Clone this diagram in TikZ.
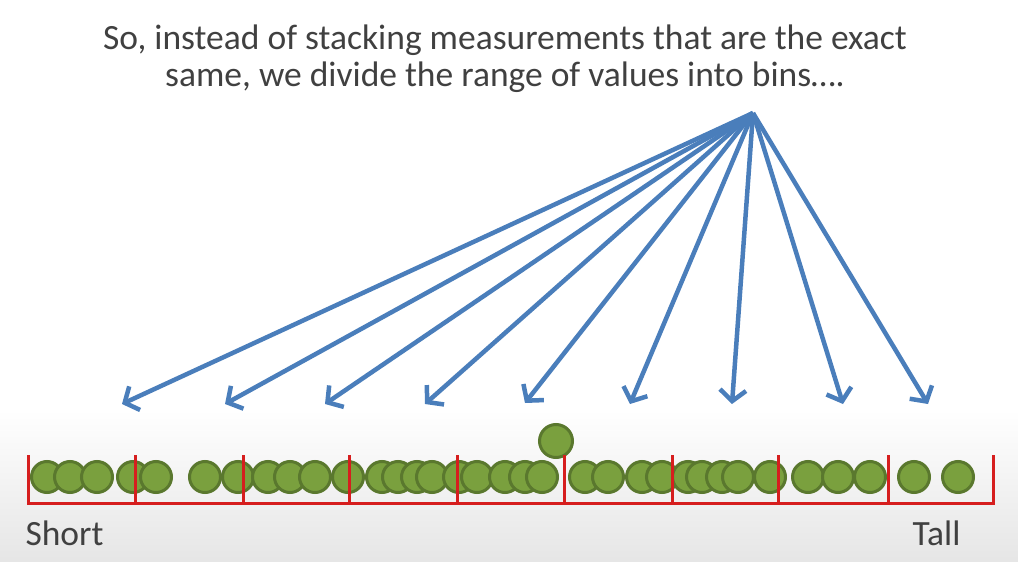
\documentclass[tikz,border=0pt]{standalone}
\usepackage{fontspec}
\setmainfont{Carlito}
\usetikzlibrary{arrows.meta, positioning}
\definecolor{arrowblue}{RGB}{74,126,187}
\definecolor{beadgreen}{RGB}{122,160,62}
\definecolor{beadedge}{RGB}{90,120,46}
\definecolor{binred}{RGB}{214,30,30}
\definecolor{textgray}{RGB}{64,64,64}

\begin{document}
\begin{tikzpicture}[x=1pt, y=-1pt,
  bead/.style={circle, draw=beadedge, fill=beadgreen, line width=3pt, minimum size=31pt, inner sep=0pt},
  fan/.style={draw=arrowblue, line width=4.5pt, -{Straight Barb[length=11pt, width=26pt]}},
  binline/.style={draw=binred, line width=3pt},
  words/.style={text=textgray, font=\fontsize{35.5}{37}\selectfont}
]
\useasboundingbox (0,0) rectangle (1018,562);
\shade[top color=white, bottom color=black!10] (0,410) rectangle (1018,562);

\node[words, align=center] (title) at (505,59) {So, instead of stacking measurements that are the exact\\same, we divide the range of values into bins\dots.};
\node[words, anchor=west] (short) at (22,533) {Short};
\node[words, anchor=east] (tall) at (964,533) {Tall};

% measurements
\foreach \x [count=\i] in {47,70,97,133,156,205,238,268,290,315,348,382,398,417,432,459,477,505,525,542,585,608,642,662,688,702,722,738,770,808,838,870,914,958}
  \node[bead] (m\i) at (\x,477) {};
\node[bead, minimum size=33pt] (extra) at (556,441) {};

% bins
\draw[binline] (28,455) -- (28,503) -- (993,503) -- (993,455);
\foreach \x in {135,243,349,457,564,672,778,888}
  \draw[binline] (\x,455) -- (\x,503);

% arrows
\coordinate (src) at (753,113);
\foreach \x/\y [count=\i] in {122/404,225/404,325/404,425/404,525/403,630/404,732/404,843/404,928/404}
  \coordinate (b\i) at (\x,\y);
\foreach \i in {1,...,9}
  \draw[fan] (src) -- (b\i);
\end{tikzpicture}
\end{document}
